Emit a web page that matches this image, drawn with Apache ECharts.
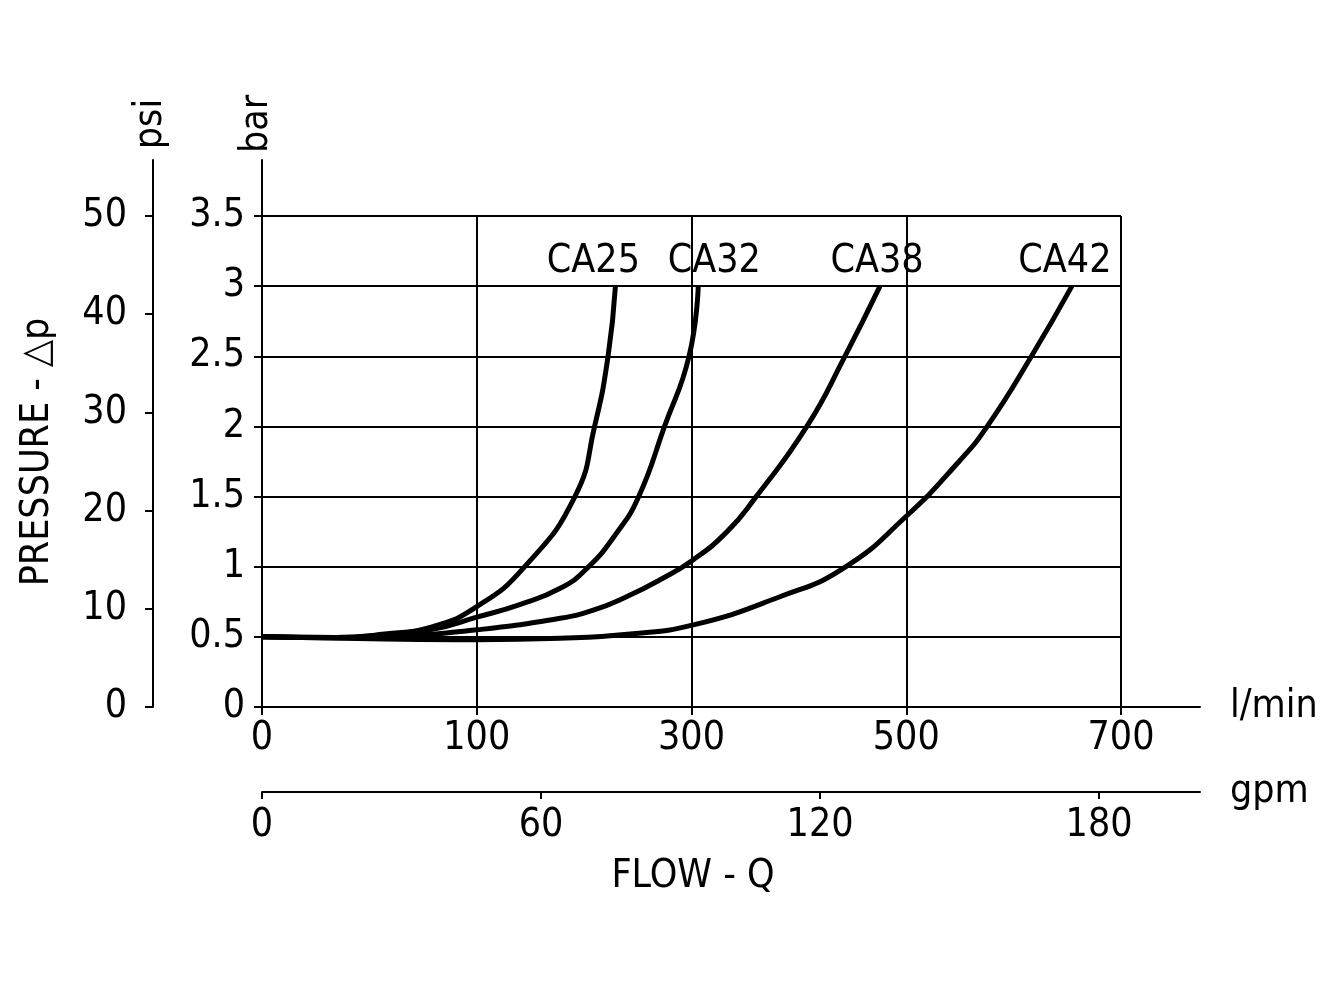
<!DOCTYPE html>
<html>
<head>
<meta charset="utf-8">
<script src="https://cdn.jsdelivr.net/npm/echarts@6/dist/echarts.min.js"></script>
<style>
  html, body { margin: 0; padding: 0; background: #fff; }
  #chart { width: 1323px; height: 992px; }
</style>
</head>
<body>
<div id="chart"></div>
<script>
// x values are positions on the l/min scale (ticks are evenly spaced), y in bar
const seriesNames = ['CA25', 'CA32', 'CA38', 'CA42']
const ca25 = [[0,0.50],[60,0.495],[100,0.52],[140,0.575],[175,0.715],[213,0.99],[255,1.50],[271,2.0],[282,2.50],[288,3.0]]
const ca32 = [[0,0.50],[60,0.495],[100,0.515],[140,0.555],[175,0.64],[210,0.73],[243,0.846],[265,0.99],[289,1.24],[307,1.50],[328,2.0],[348,2.50],[355.5,3.0]]
const ca38 = [[0,0.50],[60,0.493],[112,0.505],[175,0.55],[243,0.632],[270,0.69],[297,0.786],[324,0.905],[351.5,1.05],[379,1.25],[401,1.48],[444,2.0],[475,2.50],[503.6,3.0]]
const ca42 = [[0,0.50],[100,0.485],[175,0.48],[243,0.49],[300,0.52],[351.5,0.585],[422,0.786],[474,0.99],[525,1.36],[568,1.75],[591,2.0],[627,2.50],[660,3.0]]
const allCurves = [ca25, ca32, ca38, ca42]

const lminTicks = [0, 175, 350, 525, 700]
const lminLabels = ['0', '100', '300', '500', '700']
const gpmTicks = [0, 60, 120, 180]
const psiTicks = [0, 10, 20, 30, 40, 50]

// label shift of each curve name (px), style only
const nameShift = [[-22, 0], [16, 0], [-3, 0], [-7, 0]]

const FONT = "'Liberation Sans Narrow', 'Arial Narrow', 'DejaVu Sans Condensed', sans-serif"
const FS = 39
const ink = '#000'

const myChart = echarts.init(document.getElementById('chart'), null, {renderer: 'canvas'})

const plainLine = {show: true, onZero: false, lineStyle: {color: ink, width: 2}}

myChart.setOption({
  animation: false,
  backgroundColor: '#fff',
  textStyle: {fontFamily: FONT, color: ink},
  grid: [
    {left: 262, top: 216, width: 859, height: 491, outerBoundsMode: 'none'},   // plot
    {left: 262, top: 160, width: 938, height: 547, outerBoundsMode: 'none'},   // long axis lines
    {left: 153, top: 160, width: 10, height: 547, outerBoundsMode: 'none'},    // psi
    {left: 262, top: 700, width: 938, height: 92, outerBoundsMode: 'none'}     // gpm
  ],
  xAxis: [
    {
      gridIndex: 0, type: 'value', min: 0, max: 700, interval: 175,
      axisLine: plainLine,
      axisTick: {show: true, length: 8, lineStyle: {color: ink, width: 2}},
      axisLabel: {
        fontSize: FS, color: ink, fontFamily: FONT, margin: 12,
        formatter: v => lminLabels[lminTicks.indexOf(v)] ?? ''
      },
      splitLine: {show: true, lineStyle: {color: ink, width: 2}}
    },
    {
      gridIndex: 1, type: 'value', min: 0, max: 1,
      axisLine: plainLine, axisTick: {show: false}, axisLabel: {show: false}, splitLine: {show: false},
      name: 'l/min', nameLocation: 'end', nameGap: 30,
      nameTextStyle: {fontSize: FS, color: ink, fontFamily: FONT}
    },
    {gridIndex: 2, type: 'value', show: false},
    {
      gridIndex: 3, type: 'value', min: 0, max: 201.7,
      axisLine: plainLine,
      axisTick: {show: true, length: 7, customValues: gpmTicks, lineStyle: {color: ink, width: 2}},
      axisLabel: {fontSize: FS, color: ink, fontFamily: FONT, margin: 14, customValues: gpmTicks},
      splitLine: {show: false},
      name: 'gpm', nameLocation: 'end', nameGap: 30,
      nameTextStyle: {fontSize: FS, color: ink, fontFamily: FONT}
    }
  ],
  yAxis: [
    {
      gridIndex: 0, type: 'value', min: 0, max: 3.5, interval: 0.5,
      axisLine: plainLine,
      axisTick: {show: true, length: 8, lineStyle: {color: ink, width: 2}},
      axisLabel: {fontSize: FS, color: ink, fontFamily: FONT, margin: 17},
      splitLine: {show: true, lineStyle: {color: ink, width: 2}}
    },
    {
      gridIndex: 1, type: 'value', min: 0, max: 1,
      axisLine: plainLine, axisTick: {show: false}, axisLabel: {show: false}, splitLine: {show: false}
    },
    {
      gridIndex: 2, type: 'value', min: 0, max: 55.7,
      axisLine: plainLine,
      axisTick: {show: true, length: 8, customValues: psiTicks, lineStyle: {color: ink, width: 2}},
      axisLabel: {fontSize: FS, color: ink, fontFamily: FONT, margin: 26, customValues: psiTicks},
      splitLine: {show: false}
    },
    {
      gridIndex: 2, type: 'value', min: 0, max: 55.7,
      axisLine: {show: false},
      axisTick: {show: true, inside: true, length: 8, customValues: psiTicks, lineStyle: {color: ink, width: 2}},
      axisLabel: {show: false},
      splitLine: {show: false}
    },
    {gridIndex: 3, type: 'value', show: false, min: 0, max: 1}
  ],
  graphic: [
    {type: 'text', x: 151, y: 124, rotation: Math.PI / 2,
      style: {text: 'psi', fontSize: FS, fontFamily: FONT, fill: ink, align: 'center', verticalAlign: 'middle'}},
    {type: 'text', x: 257, y: 124, rotation: Math.PI / 2,
      style: {text: 'bar', fontSize: FS, fontFamily: FONT, fill: ink, align: 'center', verticalAlign: 'middle'}},
    {type: 'text', x: 38, y: 452, rotation: Math.PI / 2,
      style: {text: 'PRESSURE - △p', fontSize: FS, fontFamily: FONT, fill: ink, align: 'center', verticalAlign: 'middle'}},
    {type: 'text', x: 693, y: 877,
      style: {text: 'FLOW - Q', fontSize: FS, fontFamily: FONT, fill: ink, align: 'center', verticalAlign: 'middle'}}
  ],
  series: allCurves.map((pts, i) => ({
    name: seriesNames[i],
    type: 'line',
    xAxisIndex: 0,
    yAxisIndex: 0,
    smooth: 0.5,
    symbol: 'circle',
    symbolSize: 0,
    showSymbol: true,
    showAllSymbol: true,
    lineStyle: {color: ink, width: 5},
    itemStyle: {color: ink},
    emphasis: {disabled: true},
    data: pts.map((p, k) => k === pts.length - 1
      ? {value: p, label: {show: true, position: 'top', distance: 5, offset: nameShift[i],
          formatter: seriesNames[i], fontSize: FS, fontFamily: FONT, color: ink}}
      : {value: p})
  }))
})
</script>
</body>
</html>
